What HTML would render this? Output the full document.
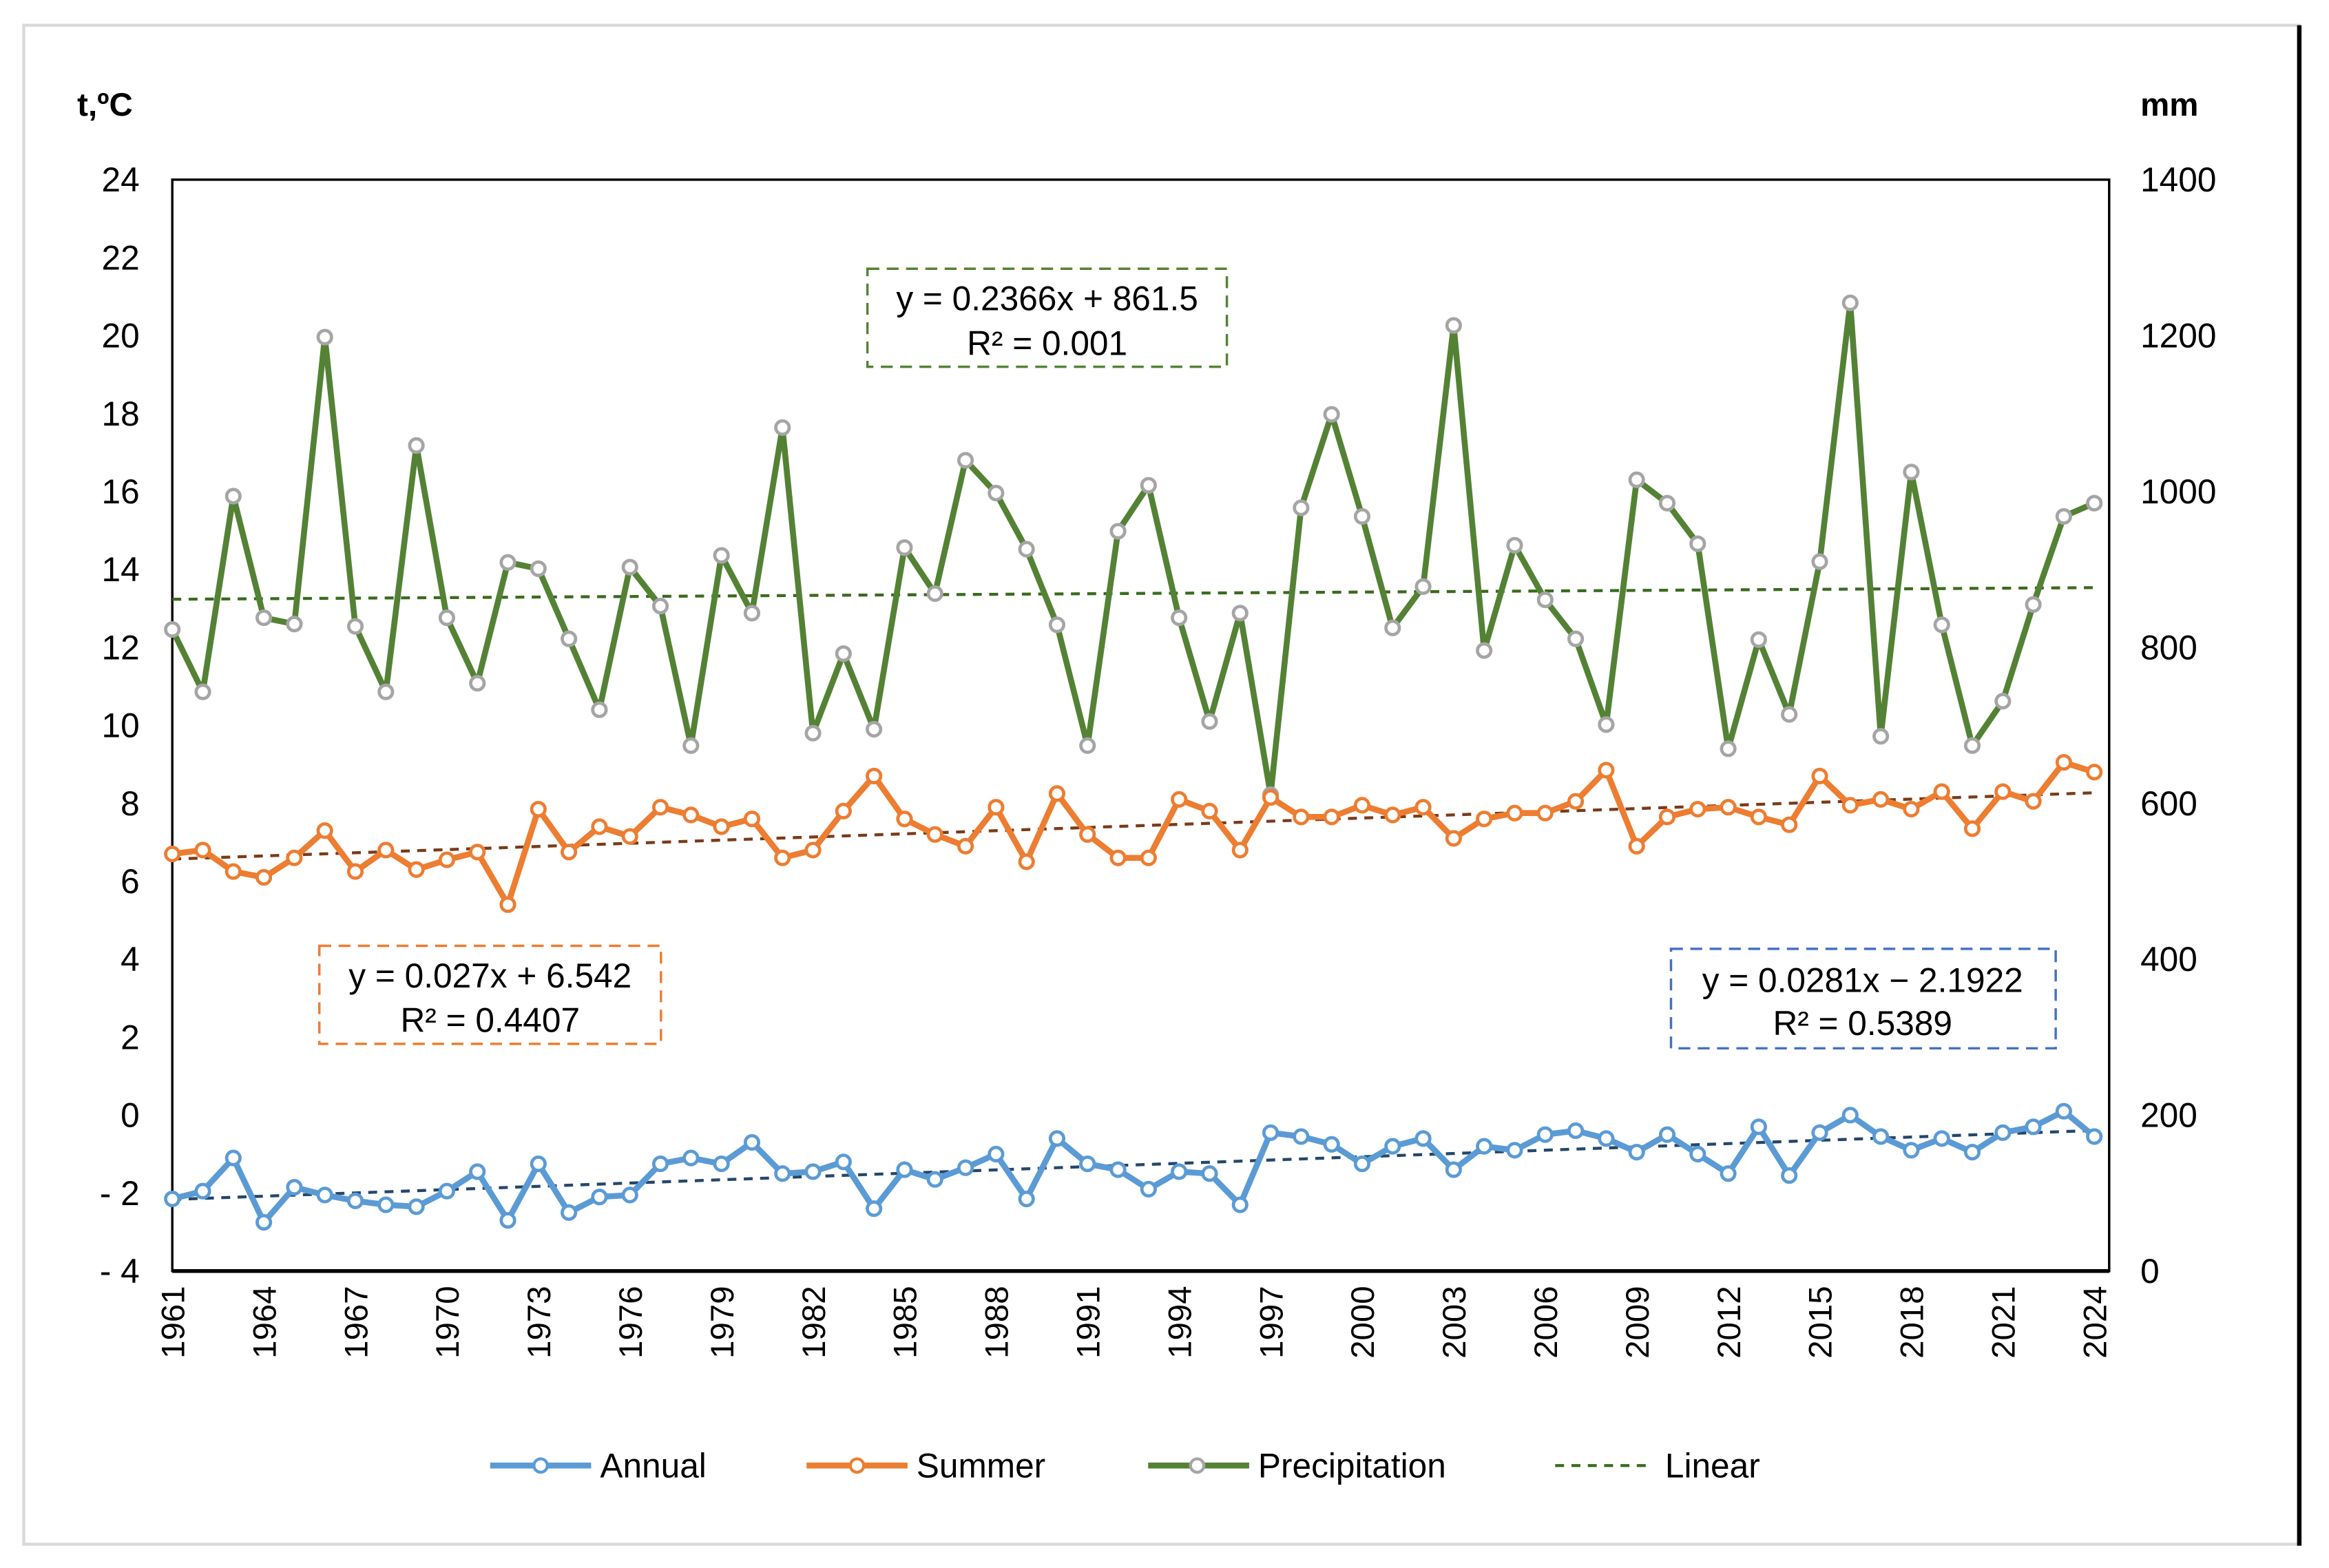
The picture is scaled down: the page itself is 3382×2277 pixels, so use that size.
<!DOCTYPE html>
<html><head><meta charset="utf-8"><style>
html,body{margin:0;padding:0;background:#fff;}
svg{display:block;font-family:"Liberation Sans",sans-serif;}
</style></head><body>
<svg id="chart" width="3382" height="2277" viewBox="0 0 1568 1056" preserveAspectRatio="none" xmlns="http://www.w3.org/2000/svg">
<rect x="0" y="0" width="1568" height="1056" fill="#fff"/>
<rect x="16" y="17" width="1532" height="1023" fill="none" stroke="#d9d9d9" stroke-width="2"/>
<line x1="1548" y1="17" x2="1548" y2="1041" stroke="#000" stroke-width="3"/>
<rect x="116" y="121" width="1304" height="735" fill="none" stroke="#000" stroke-width="1.6"/>
<line x1="116" y1="856" x2="1420" y2="856" stroke="#000" stroke-width="2.6"/>
<text x="52" y="78" font-size="22" font-weight="bold">t,ºC</text>
<text x="1441" y="78" font-size="22" font-weight="bold">mm</text>
<g id="ticks"></g>
<g id="trends"></g>
<g id="series"></g>
<g>
<rect x="584" y="181" width="242" height="66" fill="#fff" stroke="#548235" stroke-width="1.6" stroke-dasharray="8,5"/>
<text x="705" y="209" font-size="23" text-anchor="middle">y = 0.2366x + 861.5</text>
<text x="705" y="239" font-size="23" text-anchor="middle">R² = 0.001</text>
</g>
<g>
<rect x="215" y="637" width="230" height="66" fill="#fff" stroke="#ed7d31" stroke-width="1.6" stroke-dasharray="8,5"/>
<text x="330" y="665" font-size="23" text-anchor="middle">y = 0.027x + 6.542</text>
<text x="330" y="695" font-size="23" text-anchor="middle">R² = 0.4407</text>
</g>
<g>
<rect x="1125" y="639" width="259" height="67" fill="#fff" stroke="#4472c4" stroke-width="1.6" stroke-dasharray="8,5"/>
<text x="1254" y="668" font-size="23" text-anchor="middle">y = 0.0281x − 2.1922</text>
<text x="1254" y="697" font-size="23" text-anchor="middle">R² = 0.5389</text>
</g>
<g font-size="23">
<g><line x1="330" y1="987" x2="398" y2="987" stroke="#5b9bd5" stroke-width="4"/><circle cx="364" cy="987" r="4.5" fill="#fff" stroke="#5b9bd5" stroke-width="2"/><text x="404" y="995">Annual</text></g>
<g><line x1="543" y1="987" x2="611" y2="987" stroke="#ed7d31" stroke-width="4"/><circle cx="577" cy="987" r="4.5" fill="#fff" stroke="#ed7d31" stroke-width="2"/><text x="617" y="995">Summer</text></g>
<g><line x1="773" y1="987" x2="841" y2="987" stroke="#548235" stroke-width="4"/><circle cx="806" cy="987" r="4.5" fill="#fff" stroke="#a5a5a5" stroke-width="2"/><text x="847" y="995">Precipitation</text></g>
<g><line x1="1047" y1="987" x2="1110" y2="987" stroke="#3a6b1e" stroke-width="2" stroke-dasharray="6,5"/><text x="1121" y="995">Linear</text></g>
</g>
</svg>
<script>
const years = [];
for (let y = 1961; y <= 2024; y++) years.push(y);
const precipitation = [823,743,994,838,830,1198,827,743,1059,838,754,909,901,811,720,903,853,674,918,844,1082,690,792,695,928,869,1040,998,926,829,674,949,1008,838,705,844,611,979,1099,968,825,878,1213,796,931,861,811,701,1015,985,933,670,810,714,910,1242,686,1025,829,674,731,855,968,985];
const summer = [6.7,6.8,6.25,6.1,6.6,7.3,6.25,6.8,6.3,6.55,6.75,5.4,7.85,6.75,7.4,7.15,7.9,7.7,7.4,7.6,6.6,6.8,7.8,8.7,7.6,7.2,6.9,7.9,6.5,8.25,7.2,6.6,6.6,8.1,7.8,6.8,8.15,7.65,7.65,7.95,7.7,7.9,7.1,7.6,7.75,7.75,8.05,8.85,6.9,7.65,7.85,7.9,7.65,7.45,8.7,7.95,8.1,7.85,8.3,7.35,8.3,8.05,9.05,8.8];
const annual = [-2.15,-1.95,-1.1,-2.75,-1.85,-2.05,-2.2,-2.3,-2.35,-1.95,-1.45,-2.7,-1.25,-2.5,-2.1,-2.05,-1.25,-1.1,-1.25,-0.7,-1.5,-1.45,-1.2,-2.4,-1.4,-1.65,-1.35,-1.0,-2.15,-0.6,-1.25,-1.4,-1.9,-1.45,-1.5,-2.3,-0.45,-0.55,-0.75,-1.25,-0.8,-0.6,-1.4,-0.8,-0.9,-0.5,-0.4,-0.6,-0.95,-0.5,-1.0,-1.5,-0.3,-1.55,-0.45,0.0,-0.55,-0.9,-0.6,-0.95,-0.45,-0.3,0.1,-0.55];
const leftTicks = [-4,-2,0,2,4,6,8,10,12,14,16,18,20,22,24];
const leftTickLabels = ["- 4","- 2","0","2","4","6","8","10","12","14","16","18","20","22","24"];
const rightTicks = [0,200,400,600,800,1000,1200,1400];
const xTickYears = [1961,1964,1967,1970,1973,1976,1979,1982,1985,1988,1991,1994,1997,2000,2003,2006,2009,2012,2015,2018,2021,2024];
const trendPrecip = [0.2366, 861.5];
const trendSummer = [0.027, 6.542];
const trendAnnual = [0.0281, -2.1922];

const NS = "http://www.w3.org/2000/svg";
const X0 = 116, X1 = 1410, TOP = 121, BOT = 856;
function xs(i){ return X0 + i * (X1 - X0) / (years.length - 1); }
function yl(v){ return BOT - (v + 4) / 28 * (BOT - TOP); }
function yr(v){ return BOT - v / 1400 * (BOT - TOP); }
function mk(tag, attrs, parent){ const e = document.createElementNS(NS, tag); for (const k in attrs) e.setAttribute(k, attrs[k]); parent.appendChild(e); return e; }

const ticks = document.getElementById('ticks');
leftTicks.forEach((v, i) => {
  const t = mk('text', {x: 94, y: yl(v) + 8, 'font-size': 23, 'text-anchor': 'end'}, ticks);
  
  
  t.textContent = leftTickLabels[i];
});
rightTicks.forEach(v => {
  const t = mk('text', {x: 1441, y: yr(v) + 8, 'font-size': 23}, ticks);
  
  
  t.textContent = String(v);
});
xTickYears.forEach(yv => {
  const i = years.indexOf(yv);
  const x = xs(i) + 8, y = 866;
  const t = mk('text', {x: x, y: y, 'font-size': 22, 'text-anchor': 'end', transform: 'rotate(-90 ' + x + ' ' + y + ')'}, ticks);
  
  
  t.textContent = String(yv);
});

const trends = document.getElementById('trends');
function trend(coef, scale, color, name){
  const n = years.length;
  const l = mk('line', {x1: xs(0), y1: scale(coef[0]*1 + coef[1]), x2: xs(n-1), y2: scale(coef[0]*n + coef[1]), stroke: color, 'stroke-width': 2, 'stroke-dasharray': '6,5'}, trends);
  
  
}
const series = document.getElementById('series');
function line(vals, scale, color, mcolor, name){
  const g = mk('g', {}, series);
  
  
  const pts = vals.map((v, i) => xs(i).toFixed(2) + ',' + scale(v).toFixed(2)).join(' ');
  const p = mk('polyline', {points: pts, fill: 'none', stroke: color, 'stroke-width': 4, 'stroke-linejoin': 'round'}, g);
  
  
  vals.forEach((v, i) => {
    const c = mk('circle', {cx: xs(i), cy: scale(v), r: 4.5, fill: '#fff', stroke: mcolor, 'stroke-width': 2.2}, g);
    
    
  });
}
line(precipitation, yr, '#548235', '#a5a5a5', 'precipitation-series');
trend(trendPrecip, yr, '#3a6b1e', 'precipitation-trend');
line(summer, yl, '#ed7d31', '#ed7d31', 'summer-series');
trend(trendSummer, yl, '#7a3b17', 'summer-trend');
line(annual, yl, '#5b9bd5', '#5b9bd5', 'annual-series');
trend(trendAnnual, yl, '#24476b', 'annual-trend');
</script>
</body></html>
